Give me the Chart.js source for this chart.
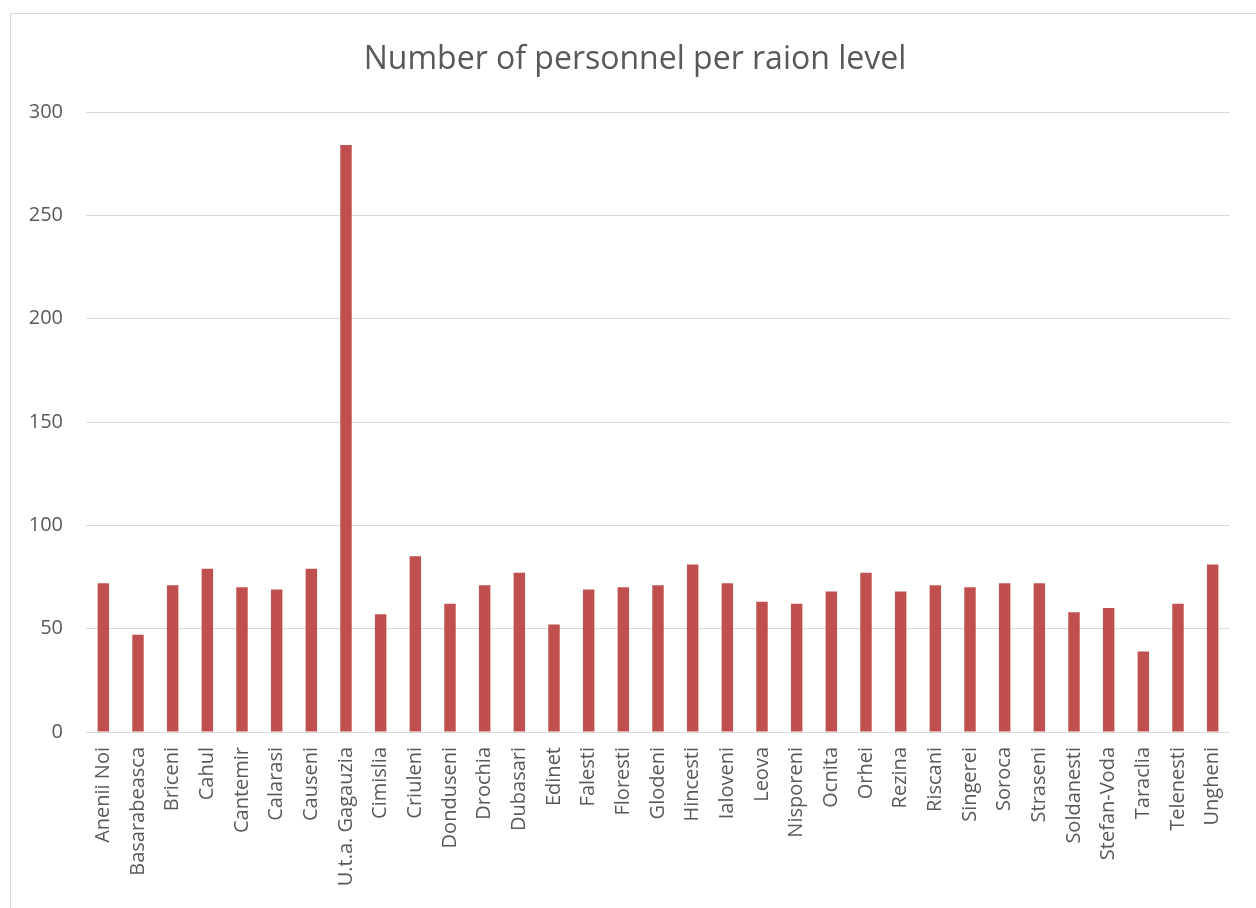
<!DOCTYPE html>
<html>
<head>
<meta charset="utf-8">
<script src="https://cdn.jsdelivr.net/npm/chart.js@4"></script>
<style>
  html, body { margin: 0; padding: 0; background: #fff; overflow: hidden; }
  #frame {
    position: absolute; left: 10px; top: 13px; width: 1260px; height: 910px;
    border-left: 1px solid #d9d9d9; border-top: 1px solid #d9d9d9;
  }
  #wrap { position: absolute; left: 0; top: 0; width: 1256px; height: 908px; }
</style>
</head>
<body>
<div id="frame"></div>
<div id="wrap"><canvas id="chart" width="1256" height="908"></canvas></div>
<script>
// Raion names along the category axis
const raions = [
  "Anenii Noi", "Basarabeasca", "Briceni", "Cahul", "Cantemir", "Calarasi",
  "Causeni", "U.t.a. Gagauzia", "Cimislia", "Criuleni", "Donduseni", "Drochia",
  "Dubasari", "Edinet", "Falesti", "Floresti", "Glodeni", "Hincesti",
  "Ialoveni", "Leova", "Nisporeni", "Ocnita", "Orhei", "Rezina", "Riscani",
  "Singerei", "Soroca", "Straseni", "Soldanesti", "Stefan-Voda", "Taraclia",
  "Telenesti", "Ungheni"
];

// Personnel count per raion
const personnel = [
  72, 47, 71, 79, 70, 69,
  79, 284, 57, 85, 62, 71,
  77, 52, 69, 70, 71, 81,
  72, 63, 62, 68, 77, 68, 71,
  70, 72, 72, 58, 60, 39,
  62, 81
];

// Value axis ticks
const yTicks = [0, 50, 100, 150, 200, 250, 300];

const chartTitle = "Number of personnel per raion level";

const textColor = "#595959";
const fontFamily = "'Open Sans', 'Liberation Sans', sans-serif";

// Centre the title over the framed panel rather than the whole canvas
const titleSpan = {
  id: "titleSpan",
  afterLayout(chart) {
    if (chart.titleBlock) {
      chart.titleBlock.left = 40;
      chart.titleBlock.right = 1230;
    }
  }
};

new Chart(document.getElementById("chart"), {
  type: "bar",
  data: {
    labels: raions,
    datasets: [{
      data: personnel,
      backgroundColor: "#C0504D",
      borderWidth: 0,
      barPercentage: 0.33,
      categoryPercentage: 1.0
    }]
  },
  plugins: [titleSpan],
  options: {
    responsive: false,
    animation: false,
    layout: { padding: { top: 14, right: 26, left: 0, bottom: 0 } },
    plugins: {
      legend: { display: false },
      tooltip: { enabled: false },
      title: {
        display: true,
        text: chartTitle,
        color: textColor,
        font: { family: fontFamily, size: 32, weight: "normal", lineHeight: 1.2 },
        padding: { top: 27, bottom: 32.6 }
      }
    },
    scales: {
      x: {
        grid: { display: false, drawTicks: false },
        border: { display: false },
        ticks: {
          color: textColor,
          font: { family: fontFamily, size: 20 },
          minRotation: 90,
          maxRotation: 90,
          autoSkip: false,
          padding: 15
        },
        afterFit(scale) { scale.height = 176; }
      },
      y: {
        min: 0,
        max: 300,
        afterBuildTicks(scale) { scale.ticks = yTicks.map(v => ({ value: v })); },
        grid: { color: "#d9d9d9", lineWidth: 1, drawTicks: false },
        border: { display: false },
        ticks: {
          color: textColor,
          font: { family: fontFamily, size: 20 },
          padding: 23
        },
        afterFit(scale) { scale.width = 86; }
      }
    }
  }
});
</script>
</body>
</html>
